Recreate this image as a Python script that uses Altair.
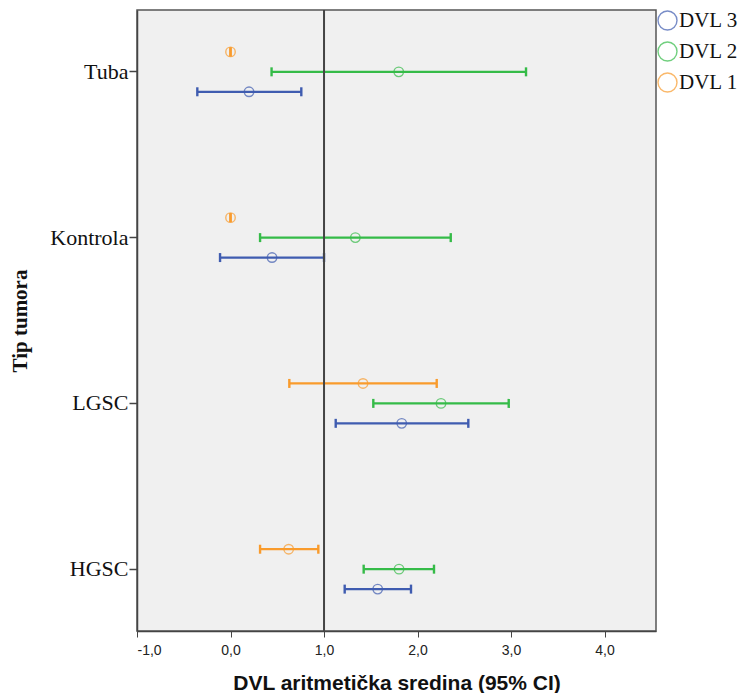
import altair as alt
import pandas as pd

TUMORS = ["Tuba", "Kontrola", "LGSC", "HGSC"]
SERIES = ["DVL 1", "DVL 2", "DVL 3"]
LEGEND_ORDER = ["DVL 3", "DVL 2", "DVL 1"]
COLORS = ["#3f5cb0", "#35bb48", "#f99b2c"]  # DVL 3, DVL 2, DVL 1

dvl1_mean = [0.0, 0.0, 1.417, 0.622]
dvl1_low = [0.0, 0.0, 0.629, 0.316]
dvl1_high = [0.0, 0.0, 2.205, 0.939]

dvl2_mean = [1.799, 1.335, 2.251, 1.802]
dvl2_low = [0.439, 0.316, 1.527, 1.424]
dvl2_high = [3.160, 2.355, 2.975, 2.176]

dvl3_mean = [0.198, 0.444, 1.831, 1.574]
dvl3_low = [-0.355, -0.112, 1.125, 1.221]
dvl3_high = [0.757, 1.000, 2.543, 1.930]

REF = [1.0]
X_TICKS = [-1, 0, 1, 2, 3, 4]

rows = []
for name, m, lo, hi in [
    ("DVL 1", dvl1_mean, dvl1_low, dvl1_high),
    ("DVL 2", dvl2_mean, dvl2_low, dvl2_high),
    ("DVL 3", dvl3_mean, dvl3_low, dvl3_high),
]:
    for t, a, b, c in zip(TUMORS, m, lo, hi):
        rows.append({"tumor": t, "dvl": name, "mean": a, "low": b, "high": c})
df = pd.DataFrame(rows)

xscale = alt.Scale(domain=[-1, 4.55], nice=False, zero=False)
xaxis = alt.Axis(
    values=X_TICKS,
    labelExpr="replace(replace(format(datum.value, '.1f'), '.', ','), '\u2212', '-')",
    grid=False,
    tickSize=6,
    labelPadding=6,
    labelFont="Liberation Sans",
    labelFontSize=14,
    labelColor="#222",
    titleFont="Liberation Sans",
    titleFontSize=21,
    titleFontWeight="bold",
    titleColor="#111",
    titlePadding=15,
)
yaxis = alt.Axis(
    grid=False,
    tickSize=8,
    tickWidth=1.5,
    labelPadding=1,
    labelFont="Liberation Serif",
    labelFontSize=22,
    labelColor="#111",
    titleFont="Liberation Serif",
    titleFontSize=21,
    titleFontWeight="bold",
    titleColor="#111",
    titlePadding=19,
)

legend = alt.Legend(
    title=None,
    orient="right",
    offset=1,
    padding=0,
    symbolType="circle",
    symbolSize=360,
    symbolStrokeWidth=1.4,
    symbolFillColor="transparent",
    labelFont="Liberation Serif",
    labelFontSize=21,
    labelColor="#111",
    labelOffset=1,
    rowPadding=6,
)

y_enc = alt.Y(
    "tumor:N",
    sort=TUMORS,
    scale=alt.Scale(paddingInner=0.639, paddingOuter=0.1925),
    axis=yaxis,
    title="Tip tumora",
)
yoff_enc = alt.YOffset(
    "dvl:N",
    sort=SERIES,
    scale=alt.Scale(domain=SERIES, paddingInner=0, paddingOuter=0),
)
c_enc = alt.Color("dvl:N", scale=alt.Scale(domain=LEGEND_ORDER, range=COLORS), legend=legend)

base = alt.Chart(df)

points = base.mark_point(shape="circle", filled=False, size=90, strokeWidth=1.4).encode(
    x=alt.X("mean:Q", scale=xscale, axis=xaxis, title="DVL aritmetička sredina (95% CI)"),
    y=y_enc,
    yOffset=yoff_enc,
    color=c_enc,
)
bars = base.mark_rule(strokeWidth=2.2).encode(
    x=alt.X("low:Q", scale=xscale),
    x2="high:Q",
    y=y_enc,
    yOffset=yoff_enc,
    color=c_enc,
)
CAP = "M0,-1L0,1"
caps_lo = base.mark_point(shape=CAP, filled=False, size=81, strokeWidth=2.4, opacity=1).encode(
    x=alt.X("low:Q", scale=xscale),
    y=y_enc,
    yOffset=yoff_enc,
    color=c_enc,
)
caps_hi = base.mark_point(shape=CAP, filled=False, size=81, strokeWidth=2.4, opacity=1).encode(
    x=alt.X("high:Q", scale=xscale),
    y=y_enc,
    yOffset=yoff_enc,
    color=c_enc,
)

ref = alt.Chart(pd.DataFrame({"ref": REF})).mark_rule(color="#444", strokeWidth=2).encode(
    x=alt.X("ref:Q", scale=xscale)
)

chart = (
    alt.layer(points, bars, caps_lo, caps_hi, ref)
    .properties(
        width=519,
        height=621,
        autosize=alt.AutoSizeParams(type="none"),
        padding={"left": 129, "top": 2, "right": 82, "bottom": 62},
    )
    .configure_view(fill="#f0f0f0", stroke="#555", strokeWidth=1.5)
    .configure_axis(domainColor="#444", tickColor="#444", domainWidth=1.5)
)

chart.save("out.html", embed_options={"renderer": "svg", "actions": False})
